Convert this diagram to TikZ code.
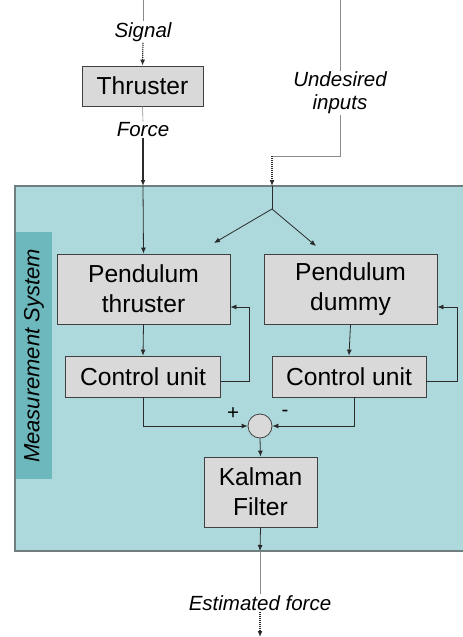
\documentclass[tikz,border=0pt]{standalone}
\usepackage{fontspec}
\setmainfont{Liberation Sans}
\usepackage{tikz}
\usetikzlibrary{arrows.meta}
\usetikzlibrary{positioning}
\usetikzlibrary{calc}
\definecolor{sysfill}{HTML}{ADD9DD}
\definecolor{sysedge}{HTML}{6F7F80}
\definecolor{tabfill}{HTML}{6DB8BD}
\definecolor{blkfill}{HTML}{D9D9D9}
\definecolor{blkedge}{HTML}{404040}
\definecolor{wire}{HTML}{2A2A2A}
\definecolor{feed}{HTML}{8A8A8A}

\begin{document}
\begin{tikzpicture}[
  x=1pt, y=-1pt,
  >={Latex[length=6pt,width=5pt]},
  blk/.style 2 args={
    rectangle,
    draw=blkedge,
    fill=blkfill,
    line width=0.8pt,
    minimum width=#1,
    minimum height=#2,
    inner sep=0pt,
    align=center,
    font=\fontsize{24.6}{30}\selectfont},
  lbl/.style={
    inner sep=1pt,
    align=center,
    font=\fontsize{20.5}{23}\selectfont\itshape},
  dep/.style={
    ->, draw=wire, line width=0.8pt},
  dotdep/.style={
    ->, draw=wire, line width=1.2pt, dash pattern=on 1.2pt off 0.8pt},
  thinw/.style={
    draw=feed, line width=0.6pt},
]

  \useasboundingbox (0,0) rectangle (463,637);

  % measurement system
  \fill[sysfill] (15,186) rectangle (463,551);
  \draw[sysedge, line width=1.6pt] (463,186) -- (15,186) -- (15,551) -- (463,551);
  \fill[tabfill] (16,232) rectangle (52,479);
  \node[rotate=90, inner sep=0pt, font=\fontsize{22}{26}\selectfont\itshape] (msys)
      at (34,356) {Measurement System};

  % blocks
  \node[blk={121pt}{40pt}] (thruster) at (142.5,86) {Thruster};
  \node[blk={173pt}{70pt}] (pthr) at (143.5,289) {Pendulum\\thruster};
  \node[blk={173pt}{70pt}] (pdum) at (350.5,289) {Pendulum\\dummy};
  \node[blk={155pt}{41pt}] (cu_1) at (143,376.5) {Control unit};
  \node[blk={154pt}{41pt}] (cu_2) at (349,376.5) {Control unit};
  \node[circle, draw=blkedge, fill=blkfill, line width=0.8pt,
        minimum size=24pt, inner sep=0pt] (sum) at (260,426) {};
  \node[blk={113pt}{70pt}] (kalman) at (260.5,492) {Kalman\\Filter};

  % labels
  \node[lbl] (signal) at (143,32) {Signal};
  \node[lbl] (force) at (143,130) {Force};
  \node[lbl] (undes) at (340,93) {Undesired\\inputs};
  \node[lbl] (est) at (260,603) {Estimated force};
  \node[inner sep=0pt, font=\fontsize{20.5}{23}\selectfont] (plus) at (233,414) {+};
  \node[inner sep=0pt, font=\fontsize{20.5}{23}\selectfont] (minus) at (285,413) {-};

  \coordinate (sig_top) at (143,0);
  \coordinate (und_top) at (340,0);
  \coordinate (und_bend) at (340,156);
  \coordinate (und_turn) at (272,156);
  \coordinate (force_in) at (143,186);
  \coordinate (und_in) at (272,186);
  \coordinate (split) at (272,209);
  \coordinate (split_l) at (214,243);
  \coordinate (split_r) at (316,246);
  \coordinate (est_out) at (260,551);
  \coordinate (est_end) at (260,637);

  % inputs
  \draw[thinw] (sig_top) -- (signal.north);
  \draw[dotdep] (signal.south) -- (thruster.north);
  \draw[thinw] (thruster.south) -- (force.north);
  \draw[dotdep] (force.south) -- (force_in);
  \draw[dep] (force_in) -- (pthr.north);

  \draw[thinw] (und_top) -- (undes.north);
  \draw[thinw] (undes.south) -- (und_bend) -- (und_turn);
  \draw[dotdep] (und_turn) -- (und_in);
  \draw[wire, line width=0.8pt] (und_in) -- (split);
  \draw[dep] (split) -- (split_l);
  \draw[dep] (split) -- (split_r);

  % loops
  \draw[dep] (pthr.south) -- (cu_1.north);
  \draw[dep] (pdum.south) -- (cu_2.north);
  \draw[dep] ([yshift=-4.5pt]cu_1.east) -- ++(28,0) |- ([yshift=-18pt]pthr.east);
  \draw[dep] ([yshift=-4.5pt]cu_2.east) -- ++(31,0) |- ([yshift=-18pt]pdum.east);

  \draw[dep] (cu_1.south) |- (sum.west);
  \draw[dep] ([xshift=5pt]cu_2.south) |- (sum.east);
  \draw[dep] (sum.south) -- (kalman.north);

  % output
  \draw[dep] (kalman.south) -- (est_out);
  \draw[thinw] (est_out) -- (est.north);
  \draw[dotdep] (est.south) -- (est_end);

\end{tikzpicture}
\end{document}
